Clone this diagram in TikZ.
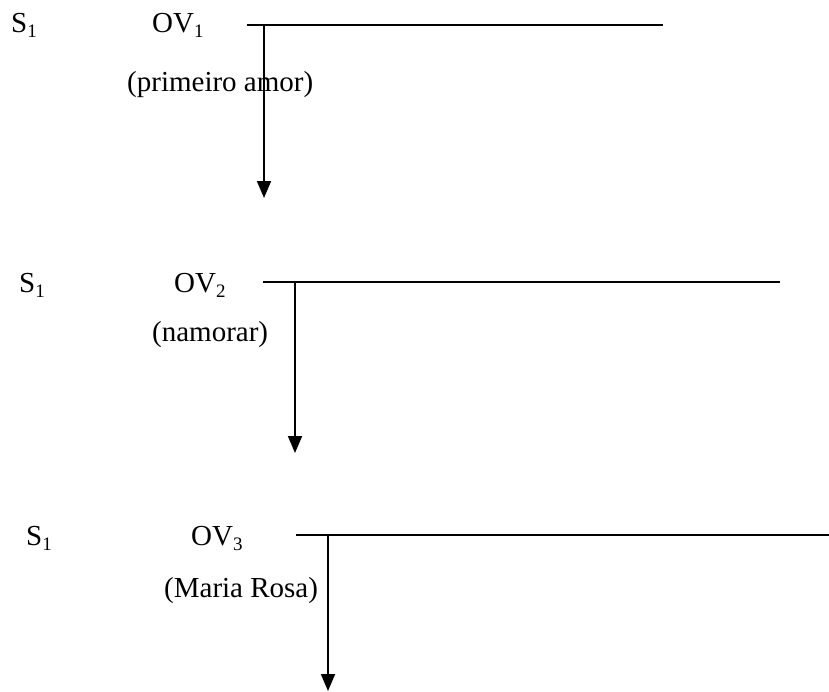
\documentclass[tikz,border=0pt]{standalone}
\usepackage{fontspec}
\setmainfont{Liberation Serif}
\usetikzlibrary{arrows.meta}
\tikzset{
  lbl/.style={inner sep=0pt, anchor=base west, font=\fontsize{29}{34}\selectfont},
  par/.style={inner sep=0pt, anchor=base west, font=\fontsize{29}{34}\selectfont},
  hline/.style={line width=1.8pt},
  varrow/.style={line width=1.8pt, -{Triangle[length=17pt,width=14pt]}}
}
\newcommand{\sbs}[1]{\raisebox{-0.18em}{\fontsize{19}{22}\selectfont #1}}
\begin{document}
\begin{tikzpicture}[x=1pt,y=-1pt]
\useasboundingbox (0,0) rectangle (829,691);
% Row 1
\node[lbl] (s1) at (11,32) {S\sbs{1}};
\node[lbl] (ov1) at (152,32) {OV\sbs{1}};
\node[par] (p1) at (127,91) {(primeiro amor)};
\coordinate (a1) at (247,25);
\coordinate (b1) at (663,25);
\coordinate (j1) at (264,25);
\coordinate (t1) at (264,198);
\draw[hline] (a1) -- (b1);
\draw[varrow] (j1) -- (t1);
% Row 2
\node[lbl] (s2) at (19,292) {S\sbs{1}};
\node[lbl] (ov2) at (174,292) {OV\sbs{2}};
\node[par] (p2) at (152,341) {(namorar)};
\coordinate (a2) at (263,282);
\coordinate (b2) at (780,282);
\coordinate (j2) at (295,282);
\coordinate (t2) at (295,453);
\draw[hline] (a2) -- (b2);
\draw[varrow] (j2) -- (t2);
% Row 3
\node[lbl] (s3) at (26,545) {S\sbs{1}};
\node[lbl] (ov3) at (191,545) {OV\sbs{3}};
\node[par] (p3) at (164,597) {(Maria Rosa)};
\coordinate (a3) at (296,535);
\coordinate (b3) at (829,535);
\coordinate (j3) at (328,535);
\coordinate (t3) at (328,691);
\draw[hline] (a3) -- (b3);
\draw[varrow] (j3) -- (t3);
\end{tikzpicture}
\end{document}
